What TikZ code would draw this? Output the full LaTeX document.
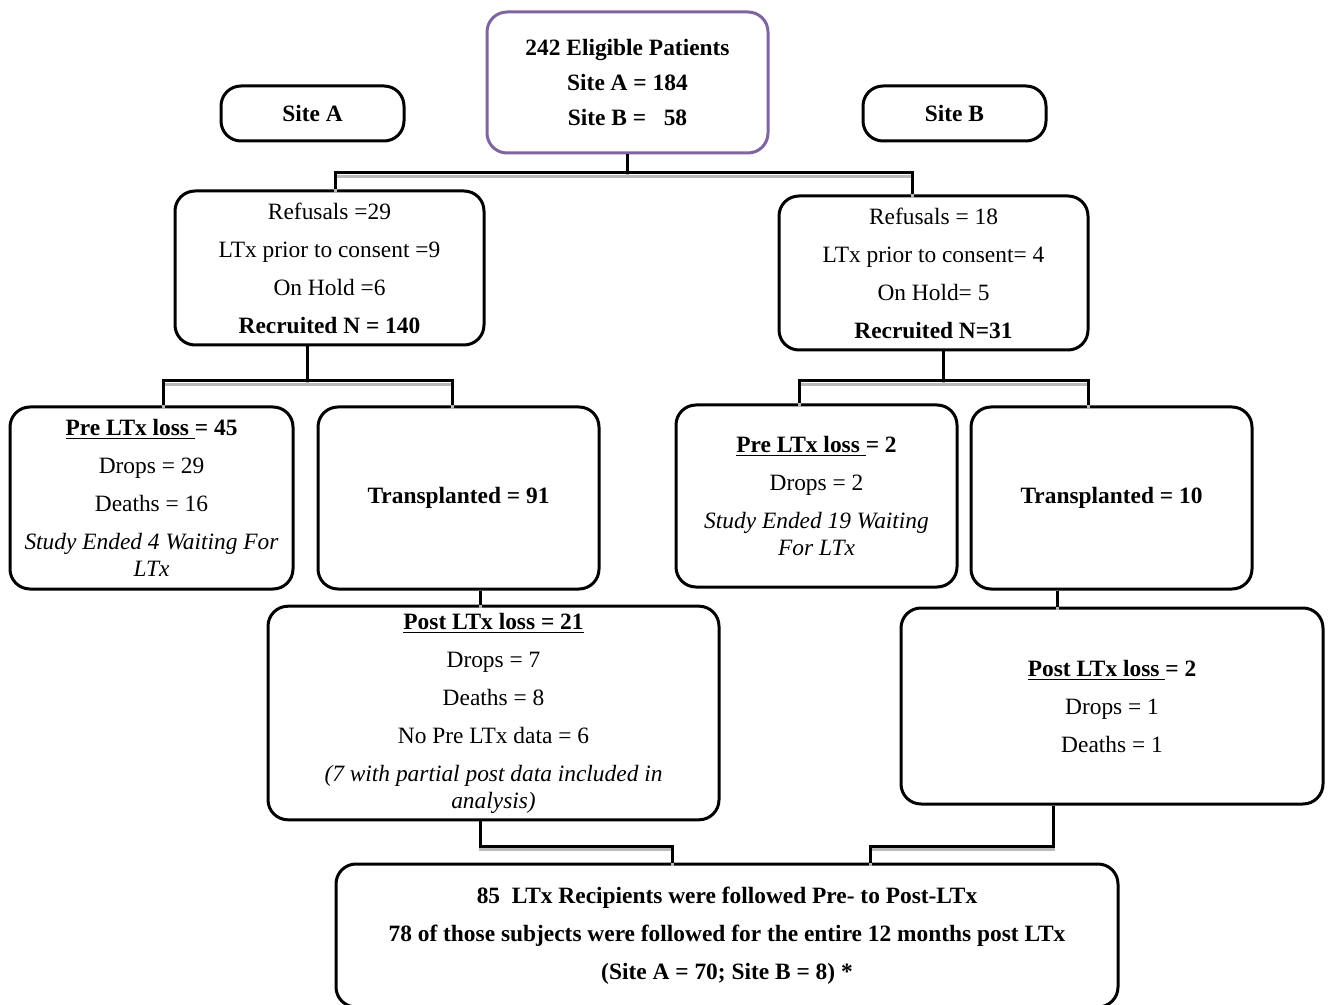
\documentclass[tikz,border=0pt]{standalone}
\usepackage{fontspec}
\setmainfont{Liberation Serif}
\usepackage{xcolor}
\usetikzlibrary{positioning}
\definecolor{sitepurple}{RGB}{128,100,162}
\tikzset{
  box/.style={draw, line width=1.5pt, rounded corners=10pt, align=center,
    font=\fontsize{11.7}{13.5}\selectfont},
  boldbox/.style={box, font=\fontsize{11.7}{13.5}\selectfont\bfseries},
  link/.style={line width=1.5pt,
    preaction={draw=gray!55, line width=1.5pt, transform canvas={yshift=-1.6pt}}},
}
\begin{document}
\begin{tikzpicture}[x=0.5pt,y=-0.5pt]
\useasboundingbox (0,0) rectangle (1333,1005);

  \node[boldbox, draw=sitepurple, minimum width=140.5pt, minimum height=70.5pt] (elig) at (627.5,82.5)
    {242 Eligible Patients\\[4pt] Site A = 184\\[4pt] Site B = \ \ 58};
  \node[boldbox, minimum width=91.5pt, minimum height=27.5pt] (siteA) at (312.5,113.5) {Site A};
  \node[boldbox, minimum width=91.5pt, minimum height=27.5pt] (siteB) at (954.5,113.5) {Site B};

  \node[box, minimum width=154.5pt, minimum height=77pt] (refA) at (329.5,268)
    {Refusals =29\\[5.5pt] LTx prior to consent =9\\[5.5pt] On Hold =6\\[5.5pt] \textbf{Recruited N = 140}};
  \node[box, minimum width=154.5pt, minimum height=77pt] (refB) at (933.5,273)
    {Refusals = 18\\[5.5pt] LTx prior to consent= 4\\[5.5pt] On Hold= 5\\[5.5pt] \textbf{Recruited N=31}};

  \node[box, minimum width=141.5pt, minimum height=91pt] (preA) at (151.5,498)
    {\textbf{\underline{Pre LTx loss }= 45}\\[5.5pt] Drops = 29\\[5.5pt] Deaths = 16\\[5.5pt]
     \textit{Study Ended 4 Waiting For}\\ \textit{LTx}};
  \node[boldbox, minimum width=140.5pt, minimum height=91pt] (txA) at (458.5,498) {Transplanted = 91};
  \node[box, minimum width=140.5pt, minimum height=91pt] (preB) at (816.5,496)
    {\textbf{\underline{Pre LTx loss }= 2}\\[5.5pt] Drops = 2\\[5.5pt]
     \textit{Study Ended 19 Waiting}\\ \textit{For LTx}};
  \node[boldbox, minimum width=140.5pt, minimum height=91pt] (txB) at (1111.5,498) {Transplanted = 10};

  \node[box, minimum width=225.5pt, minimum height=105pt] (postA) at (493.5,713)
    {\textbf{\underline{Post LTx loss = 21}}\\[5.5pt] Drops = 7\\[5.5pt] Deaths = 8\\[5.5pt]
     No Pre LTx data = 6\\[5.5pt] \textit{(7 with partial post data included in}\\ \textit{analysis)}};
  \node[box, minimum width=211pt, minimum height=98pt] (postB) at (1112,706)
    {\textbf{\underline{Post LTx loss }= 2}\\[5.5pt] Drops = 1\\[5.5pt] Deaths = 1};

  \node[boldbox, minimum width=391pt, minimum height=71.5pt] (final) at (727,935.5)
    {85 \ LTx Recipients were followed Pre- to Post-LTx\\[5.5pt]
     78 of those subjects were followed for the entire 12 months post LTx\\[5.5pt]
     (Site A = 70; Site B = 8) *};

  % splits
  \coordinate (topL) at (335,173);
  \coordinate (topR) at (912,173);
  \coordinate (aMid) at (307,381);
  \coordinate (aL) at (163,381);
  \coordinate (aR) at (452,381);
  \coordinate (bMid) at (943,381);
  \coordinate (bL) at (799,381);
  \coordinate (bR) at (1088,381);
  \coordinate (dropA) at (480,846);
  \coordinate (joinA) at (672,846);
  \coordinate (dropB) at (1053,846);
  \coordinate (joinB) at (870,846);

  \draw[link] (elig.south) -- (elig.south |- topL);
  \draw[link] (topL |- refA.north) -- (topL) -- (topR) -- (topR |- refB.north);

  \draw[link] (aMid |- refA.south) -- (aMid);
  \draw[link] (aL |- preA.north) -- (aL) -- (aR) -- (aR |- txA.north);
  \draw[link] (bMid |- refB.south) -- (bMid);
  \draw[link] (bL |- preB.north) -- (bL) -- (bR) -- (bR |- txB.north);

  \draw[link] (dropA |- txA.south) -- (dropA |- postA.north);
  \draw[link] (1057,0 |- txB.south) -- (1057,0 |- postB.north);

  \draw[link] (dropA |- postA.south) -- (dropA) -- (joinA) -- (joinA |- final.north);
  \draw[link] (dropB |- postB.south) -- (dropB) -- (joinB) -- (joinB |- final.north);

\end{tikzpicture}
\end{document}
